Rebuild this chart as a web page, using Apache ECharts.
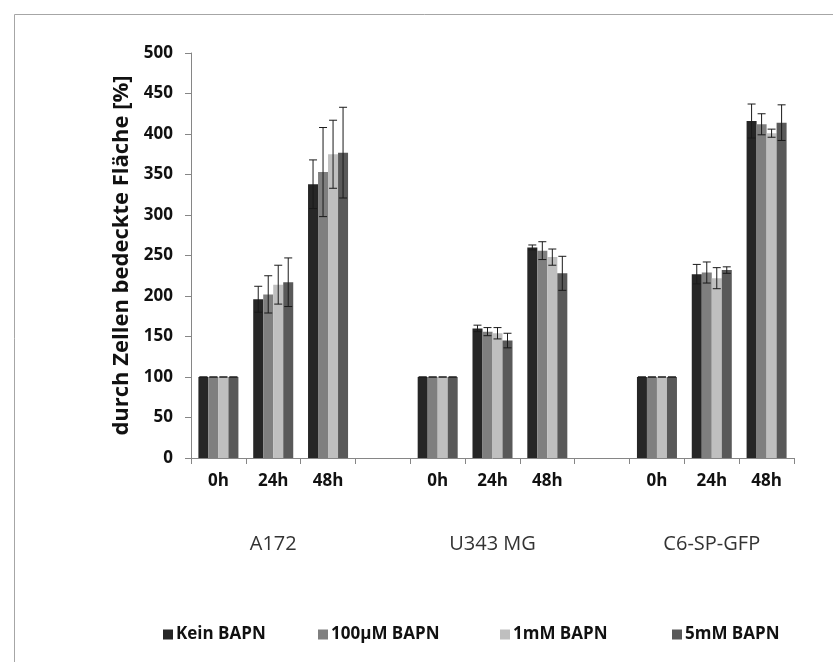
<!DOCTYPE html>
<html>
<head>
<meta charset="utf-8">
<script src="https://cdn.jsdelivr.net/npm/echarts@6/dist/echarts.min.js"></script>
<style>
  html, body { margin: 0; padding: 0; background: #ffffff; }
  #chart { width: 833px; height: 662px; }
</style>
</head>
<body>
<div id="chart"></div>
<script>
// Cell lines, time points and treatment groups
const cellLines = ['A172', 'U343 MG', 'C6-SP-GFP'];
const timePoints = ['0h', '24h', '48h'];
const seriesNames = ['Kein BAPN', '100µM BAPN', '1mM BAPN', '5mM BAPN'];

// Mean covered area [%], ordered A172 0h/24h/48h, U343 MG 0h/24h/48h, C6-SP-GFP 0h/24h/48h
const keinBAPN   = [100, 196, 338, 100, 160, 260, 100, 227, 416];
const bapn100uM  = [100, 202, 353, 100, 156, 256, 100, 229, 412];
const bapn1mM    = [100, 214, 375, 100, 154, 248, 100, 222, 401];
const bapn5mM    = [100, 217, 377, 100, 145, 228, 100, 232, 414];

// Standard deviations, same order
const keinBAPNErr  = [0, 16, 30, 0, 4, 3, 0, 12, 21];
const bapn100uMErr = [0, 23, 55, 0, 5, 11, 0, 13, 13];
const bapn1mMErr   = [0, 24, 42, 0, 7, 10, 0, 13, 5];
const bapn5mMErr   = [0, 30, 56, 0, 9, 21, 0, 4, 22];

// Value axis ticks
const yMin = 0, yMax = 500, yStep = 50;

const seriesColors = ['#262626', '#7f7f7f', '#bfbfbf', '#595959'];
const BAR_CAT_GAP = 0.27;
const FONT = "'Open Sans', 'DejaVu Sans', sans-serif";

// Build the category slots: three time points per cell line, one empty slot between cell lines
const slots = [];
cellLines.forEach((cl, g) => {
  timePoints.forEach(t => slots.push({ key: cl + '|' + t, time: t, group: cl, mid: t === timePoints[1] }));
  if (g < cellLines.length - 1) slots.push({ key: 'gap' + g, time: '', group: '', mid: false });
});
const categoryKeys = slots.map(s => s.key);

function slotIndexOf(i) {
  const cl = cellLines[Math.floor(i / timePoints.length)];
  const t = timePoints[i % timePoints.length];
  return categoryKeys.indexOf(cl + '|' + t);
}

function toBarData(values) {
  const out = categoryKeys.map(() => '-');
  values.forEach((v, i) => { out[slotIndexOf(i)] = v; });
  return out;
}

function toErrData(values, errs) {
  return values.map((v, i) => [slotIndexOf(i), v - errs[i], v + errs[i]]);
}

const means = [keinBAPN, bapn100uM, bapn1mM, bapn5mM];
const errors = [keinBAPNErr, bapn100uMErr, bapn1mMErr, bapn5mMErr];

function makeErrRender(si) {
  return function (params, api) {
    const x = api.value(0);
    const lo = api.value(1);
    const hi = api.value(2);
    const band = api.size([1, 0])[0];
    const bw = band * (1 - BAR_CAT_GAP) / seriesNames.length;
    const cx = api.coord([x, 0])[0] + (si - (seriesNames.length - 1) / 2) * bw;
    const yLo = api.coord([x, lo])[1];
    const yHi = api.coord([x, hi])[1];
    const cap = 4;
    const st = { stroke: '#1a1a1a', lineWidth: 1 };
    return {
      type: 'group',
      children: [
        { type: 'line', shape: { x1: cx, y1: yLo, x2: cx, y2: yHi }, style: st },
        { type: 'line', shape: { x1: cx - cap, y1: yHi, x2: cx + cap, y2: yHi }, style: st },
        { type: 'line', shape: { x1: cx - cap, y1: yLo, x2: cx + cap, y2: yLo }, style: st }
      ]
    };
  };
}

const series = [];
seriesNames.forEach((name, si) => {
  series.push({
    name: name,
    type: 'bar',
    xAxisIndex: 0,
    data: toBarData(means[si]),
    barGap: '0%',
    barCategoryGap: (BAR_CAT_GAP * 100) + '%',
    itemStyle: { color: seriesColors[si] },
    emphasis: { disabled: true },
    animation: false
  });
});
seriesNames.forEach((name, si) => {
  series.push({
    name: name + ' SD',
    type: 'custom',
    xAxisIndex: 0,
    data: toErrData(means[si], errors[si]),
    encode: { x: 0, y: [1, 2] },
    renderItem: makeErrRender(si),
    z: 5,
    silent: true,
    animation: false
  });
});

const legendLefts = [163, 318, 500, 672];
const legends = seriesNames.map((name, i) => ({
  data: [name],
  left: legendLefts[i],
  top: 626,
  icon: 'rect',
  itemWidth: 10,
  itemHeight: 10,
  itemGap: 0,
  padding: 0,
  selectedMode: false,
  textStyle: { fontFamily: FONT, fontWeight: 'bold', fontSize: 17, color: '#111', padding: [0, 0, 0, -2] }
}));

const chart = echarts.init(document.getElementById('chart'), null, { renderer: 'canvas' });
chart.setOption({
  backgroundColor: '#ffffff',
  animation: false,
  graphic: [{
    type: 'rect',
    left: 12, top: 12,
    shape: { x: 0, y: 0, width: 900, height: 700 },
    style: { fill: 'none', stroke: '#a6a6a6', lineWidth: 1 },
    silent: true
  }],
  legend: legends,
  grid: { left: 191, right: 39, top: 53, bottom: 204, containLabel: false },
  xAxis: [{
    type: 'category',
    data: categoryKeys,
    axisLine: { show: true, lineStyle: { color: '#868686', width: 1 } },
    axisTick: { show: true, alignWithLabel: false, interval: 0, length: 6, lineStyle: { color: '#868686' } },
    axisLabel: {
      interval: 0,
      margin: 15,
      fontFamily: FONT, fontWeight: 'bold', fontSize: 17, color: '#111',
      formatter: (v, i) => slots[i].time
    },
    splitLine: { show: false }
  }, {
    type: 'category',
    data: categoryKeys,
    position: 'bottom',
    offset: 70,
    axisLine: { show: false },
    axisTick: { show: false },
    axisLabel: {
      interval: 0,
      margin: 6,
      fontFamily: FONT, fontSize: 20, color: '#333',
      formatter: (v, i) => slots[i].mid ? slots[i].group : ''
    },
    splitLine: { show: false }
  }],
  yAxis: {
    type: 'value',
    min: yMin, max: yMax, interval: yStep,
    name: 'durch Zellen bedeckte Fläche [%]',
    nameLocation: 'middle',
    nameGap: 58,
    nameRotate: 90,
    nameTextStyle: { fontFamily: FONT, fontWeight: 'bold', fontSize: 22, color: '#111' },
    axisLine: { show: true, lineStyle: { color: '#868686', width: 1 } },
    axisTick: { show: true, length: 6, lineStyle: { color: '#868686' } },
    axisLabel: { margin: 18, fontFamily: FONT, fontWeight: 'bold', fontSize: 17, color: '#111' },
    splitLine: { show: false }
  },
  series: series
});
</script>
</body>
</html>
